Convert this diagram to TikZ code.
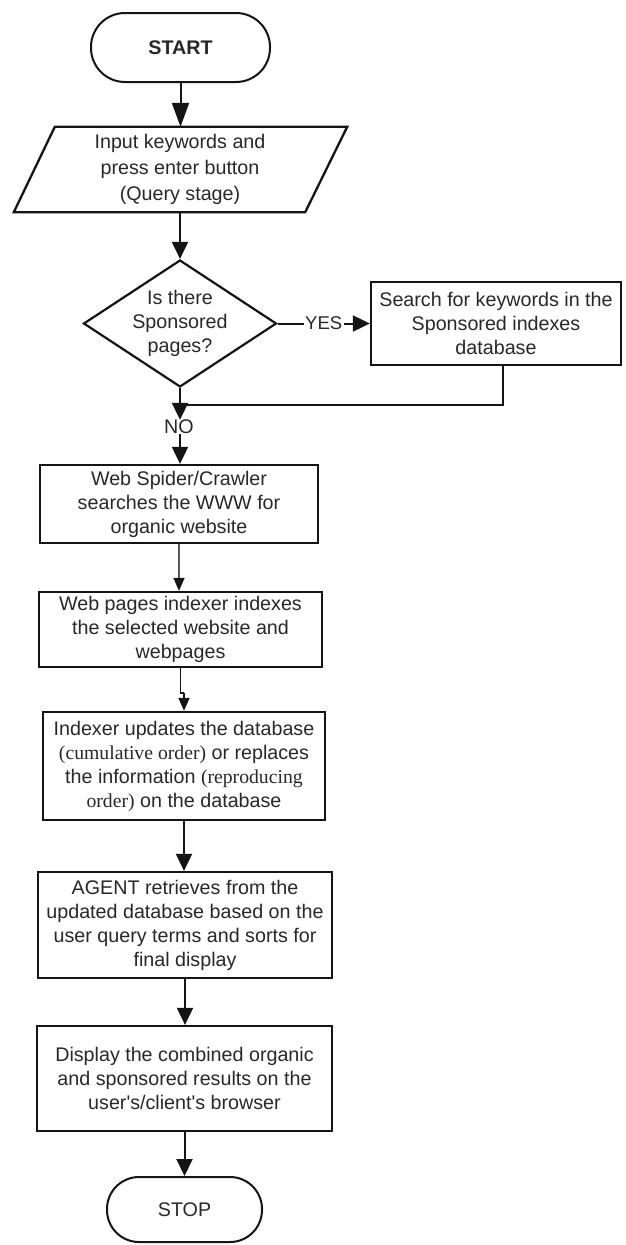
\documentclass[tikz,border=0pt]{standalone}
\usepackage{fontspec}
\setmainfont{Liberation Sans}
\newfontfamily\timesf{Liberation Serif}
\usetikzlibrary{shapes.geometric,arrows.meta,calc}
\definecolor{txt}{RGB}{40,40,40}
\definecolor{ln}{RGB}{20,20,20}
\begin{document}
\begin{tikzpicture}[x=1pt,y=-1pt,
  every node/.style={text=txt},
  box/.style={draw=ln, line width=2.3pt, inner sep=0pt, align=center,
    font=\fontsize{19.7}{24}\selectfont},
  term/.style={box, line width=2pt},
  lbl/.style={inner sep=0pt, align=center, font=\fontsize{19.7}{24}\selectfont},
  conn/.style={draw=ln, line width=2pt, -{Triangle[width=16pt,length=17pt]}},
  thinconn/.style={draw=black!65, line width=1.4pt, -{Triangle[width=11pt,length=13pt,color=ln]}},
  plain/.style={draw=ln, line width=2pt}
]
\useasboundingbox[fill=white] (0,0) rectangle (626,1245);

% terminals
\node[term, rounded corners=34pt, minimum width=179pt, minimum height=69pt,
  font=\fontsize{19.7}{24}\selectfont\bfseries] (start) at (180.5,47.5) {START};
\node[term, rounded corners=32pt, minimum width=155pt, minimum height=65pt] (stop) at (184.5,1209.5) {STOP};

% input parallelogram
\node[lbl, font=\fontsize{19.7}{26}\selectfont, minimum width=252pt, minimum height=85pt] (input) at (180,169.5)
  {Input keywords and\\press enter button\\(Query stage)};
\draw[ln, line width=2.3pt, line join=miter]
  ([xshift=-40pt]input.south west) -- ([xshift=1pt]input.north west) -- ([xshift=41pt]input.north east)
  -- ([xshift=-1pt]input.south east) -- cycle;

% decision
\node[diamond, draw=ln, line width=2.2pt, minimum width=193pt, minimum height=127pt,
  inner sep=0pt, aspect=1.52] (dec) at (180,323.5) {};
\node[lbl] (dectext) at (dec) {Is there\\Sponsored\\pages?};

% process boxes
\node[box, minimum width=250pt, minimum height=83pt] (sponsor) at (496,323.5)
  {Search for keywords in the\\Sponsored indexes\\database};
\node[box, minimum width=278pt, minimum height=78pt] (spider) at (179,504)
  {Web Spider/Crawler\\searches the WWW for\\organic website};
\node[box, minimum width=283pt, minimum height=75pt] (web) at (180.5,629.5)
  {Web pages indexer indexes\\the selected website and\\webpages};
\node[box, minimum width=282pt, minimum height=108pt] (indexer) at (184,766)
  {Indexer updates the database\\{\timesf(cumulative order)} or replaces\\the information {\timesf(reproducing}\\{\timesf order)} on the database};
\node[box, minimum width=294pt, minimum height=106pt] (agent) at (185,925)
  {AGENT retrieves from the\\updated database based on the\\user query terms and sorts for\\final display};
\node[box, minimum width=295pt, minimum height=105pt] (display) at (184.5,1078.5)
  {Display the combined organic\\and sponsored results on the\\user\textquotesingle s/client\textquotesingle s browser};

% labels and helper coordinates
\node[lbl] (no) at (179,427) {NO};
\coordinate (merge) at (181,405);
\coordinate (jog) at (184,693);

% connectors
\draw[conn, -{Triangle[width=17pt,length=24pt]}] (start.south) -- (start.south |- input.north);
\draw[conn] (input.south) -- (dec.north);
\draw[conn] (dec.east) -- node[lbl, fill=white, inner sep=1.5pt, font=\fontsize{18.5}{22}\selectfont] (yes) {YES} (sponsor.west);
\draw[plain] ([xshift=7pt]sponsor.south) |- (merge);
\draw[conn] (dec.south) -- ([xshift=1pt]no.north);
\draw[conn] ([xshift=1pt]no.south) -- ([xshift=1pt]no.south |- spider.north);
\draw[thinconn] (spider.south) -- (spider.south |- web.north);
\draw[plain, line width=1.6pt] (web.south) |- (jog);
\draw[thinconn, draw=ln, line width=1.6pt] (jog) -- (jog |- indexer.north);
\draw[conn] (indexer.south) -- (indexer.south |- agent.north);
\draw[conn] (agent.south) -- (agent.south |- display.north);
\draw[conn] (display.south) -- (display.south |- stop.north);
\end{tikzpicture}
\end{document}
